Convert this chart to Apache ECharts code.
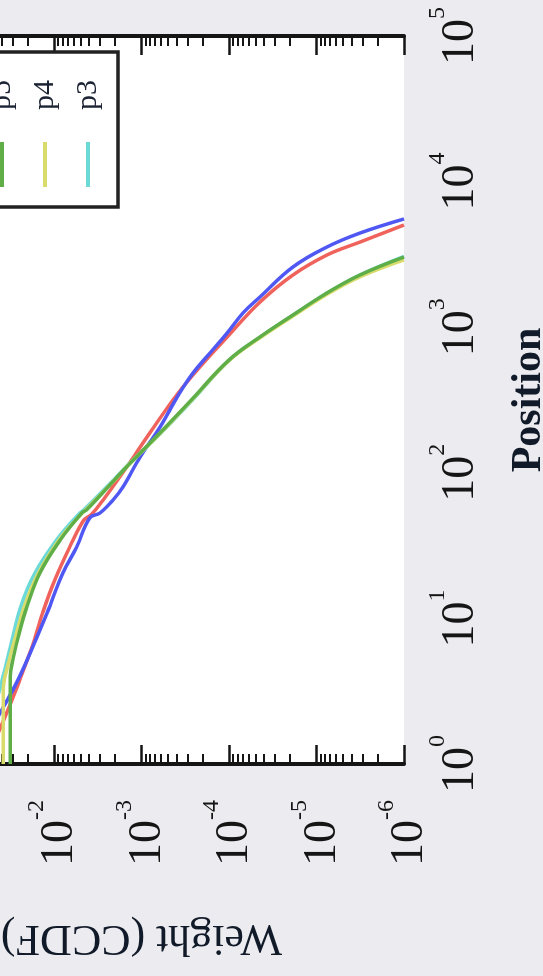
<!DOCTYPE html>
<html><head><meta charset="utf-8">
<script src="https://cdn.jsdelivr.net/npm/echarts@6/dist/echarts.min.js"></script>
<style>
html,body{margin:0;padding:0;width:543px;height:976px;overflow:hidden;background:#ebebf0;}
#chart{position:absolute;left:0;top:0;width:976px;height:843px;transform-origin:0 0;transform:translate(-200px,976px) rotate(-90deg);}
</style></head><body><div id="chart"></div>
<script>
// Tick labels
const xTicks = [1, 10, 100, 1000, 10000, 100000];
const yTicks = [1e-6, 1e-5, 1e-4, 1e-3, 1e-2, 1e-1, 1];
const minorMultipliers = [2, 3, 4, 5, 6, 7, 8, 9];

// Series (legend order, top to bottom)
const seriesNames = ['p7', 'p6', 'p5', 'p4', 'p3'];
const seriesColors = ['#f0625c', '#5058f4', '#5fae48', '#d9dc6c', '#6cd9d9'];

// [position, weight]
const p7 = [[1,0.063],[2.24,0.0347],[3.8,0.0245],[6.4,0.0178],[10.9,0.0135],[18.4,0.0098],[31,0.0066],[47,0.0046],[52,0.0037],[65,0.00275],[110,0.00147],[176,0.000865],[316,0.000437],[470,0.000258],[857,0.000105],[1489,0.0000443],[2284,0.0000186],[3133,0.00000759],[3846,0.00000318],[5035,0.000001]];
const p6 = [[1,0.089],[2.45,0.038],[3.8,0.0257],[6.4,0.0174],[10.9,0.012],[20.5,0.0079],[31,0.0055],[49,0.0039],[53,0.00298],[65,0.00212],[80,0.00163],[128,0.00104],[206,0.000615],[332,0.00039],[484,0.000258],[665,0.000165],[912,0.000105],[1253,0.0000692],[1611,0.0000443],[2590,0.0000186],[3556,0.00000759],[4436,0.00000318],[5540,0.000001]];
const p5 = [[1,0.0316],[4.0,0.0316],[5.2,0.0295],[8.3,0.0245],[12,0.0204],[20.5,0.0145],[34.5,0.0085],[53,0.0048],[56,0.0042],[93.5,0.0019],[110,0.00147],[188,0.000615],[316,0.00027],[595,0.0001],[857,0.0000443],[1213,0.0000186],[1718,0.00000759],[2284,0.00000318],[3034,0.000001]];
const p4 = [[1,0.038],[3.2,0.038],[5.0,0.033],[7.9,0.0269],[12,0.0219],[20.4,0.0151],[34.7,0.0087],[52,0.0049],[56,0.0043],[93,0.0019],[110,0.00148],[186,0.000615],[313,0.00027],[590,0.0001],[845,0.0000443],[1190,0.0000186],[1680,0.00000759],[2220,0.00000318],[2900,0.000001]];
const p3 = [[1,0.079],[2.24,0.05],[3.8,0.039],[6.3,0.0316],[12,0.024],[20.4,0.0166],[34.7,0.0093],[52,0.0052],[56,0.0045],[93,0.00195],[110,0.0015],[188,0.0006],[316,0.000262],[600,0.000098],[860,0.0000433],[1220,0.0000182],[1730,0.0000074],[2300,0.0000031],[3060,0.000001]];
const seriesData = [p7, p6, p5, p4, p3];
// drawing order: green drawn last (on top)
const drawOrder = [0, 1, 4, 3, 2];

const FONT = 'Liberation Serif';
const INK = '#151515';

function minorLogPositions(ticks) {
  const out = [];
  for (let i = 0; i < ticks.length - 1; i++) {
    const k = Math.round(Math.log10(ticks[i]));
    minorMultipliers.forEach(m => out.push(k + Math.log10(m)));
  }
  return out;
}
const xMinor = minorLogPositions(xTicks);
const yMinor = minorLogPositions(yTicks);
const xLogMin = Math.log10(xTicks[0]), xLogMax = Math.log10(xTicks[xTicks.length - 1]);
const yLogMin = Math.log10(yTicks[0]), yLogMax = Math.log10(yTicks[yTicks.length - 1]);

function expLabel(v) {
  const e = Math.round(Math.log10(v));
  return '{b|10}{e|' + e + '}';
}
const richLabel = {
  b: { fontFamily: FONT, fontSize: 46, lineHeight: 58, color: INK, verticalAlign: 'bottom' },
  e: { fontFamily: FONT, fontSize: 24, lineHeight: 24, color: INK, verticalAlign: 'top' }
};

const majorTick = { show: true, inside: true, length: 19, lineStyle: { color: INK, width: 2.5 } };
const minorTickStyle = (vals) => ({ show: true, inside: true, length: 10, customValues: vals, lineStyle: { color: INK, width: 2 } });
const frameLine = { show: true, lineStyle: { color: INK, width: 4 } };

const chart = echarts.init(document.getElementById('chart'), null, { renderer: 'canvas' });
chart.setOption({
  animation: false,
  backgroundColor: 'transparent',
  grid: { left: 212, right: 36, top: 79, bottom: 239, outerBoundsMode: 'none', containLabel: false, show: true, backgroundColor: '#ffffff', borderWidth: 0 },
  legend: {
    data: seriesNames,
    orient: 'vertical',
    align: 'left',
    right: 52,
    top: 86,
    padding: [15, 28, 15, 20],
    itemGap: 13,
    itemWidth: 45,
    itemHeight: 4,
    icon: 'rect',
    backgroundColor: '#ffffff',
    borderColor: '#222',
    borderWidth: 3.5,
    borderRadius: 0,
    textStyle: { fontFamily: FONT, fontSize: 30, lineHeight: 30, color: '#1a2233', padding: [0, 0, 0, 27] }
  },
  xAxis: [
    {
      type: 'log', logBase: 10, min: xTicks[0], max: xTicks[xTicks.length - 1], position: 'bottom',
      axisLine: frameLine, axisTick: majorTick, splitLine: { show: false },
      axisLabel: { formatter: expLabel, margin: 22, rich: richLabel, showMinLabel: true, showMaxLabel: true },
      name: 'Position', nameLocation: 'middle', nameGap: 104,
      nameTextStyle: { fontFamily: FONT, fontSize: 42, fontWeight: 'bold', color: '#111a28' }
    },
    {
      type: 'value', min: xLogMin, max: xLogMax, position: 'bottom',
      axisLine: { show: false }, axisTick: minorTickStyle(xMinor), axisLabel: { show: false }, splitLine: { show: false }
    },
    {
      type: 'log', logBase: 10, min: xTicks[0], max: xTicks[xTicks.length - 1], position: 'top',
      axisLine: frameLine, axisTick: majorTick, axisLabel: { show: false }, splitLine: { show: false }
    },
    {
      type: 'value', min: xLogMin, max: xLogMax, position: 'top',
      axisLine: { show: false }, axisTick: minorTickStyle(xMinor), axisLabel: { show: false }, splitLine: { show: false }
    }
  ],
  yAxis: [
    {
      type: 'log', logBase: 10, min: yTicks[0], max: yTicks[yTicks.length - 1], position: 'left',
      axisLine: frameLine, axisTick: majorTick, splitLine: { show: false },
      axisLabel: { formatter: expLabel, margin: 36, rich: richLabel, showMinLabel: true, showMaxLabel: true },
      name: 'Weight (CCDF)', nameLocation: 'middle', nameRotate: 90, nameGap: 152,
      nameTextStyle: { fontFamily: FONT, fontSize: 44, color: '#111a28' }
    },
    {
      type: 'value', min: yLogMin, max: yLogMax, position: 'left',
      axisLine: { show: false }, axisTick: minorTickStyle(yMinor), axisLabel: { show: false }, splitLine: { show: false }
    },
    {
      type: 'log', logBase: 10, min: yTicks[0], max: yTicks[yTicks.length - 1], position: 'right',
      axisLine: frameLine, axisTick: majorTick, axisLabel: { show: false }, splitLine: { show: false }
    },
    {
      type: 'value', min: yLogMin, max: yLogMax, position: 'right',
      axisLine: { show: false }, axisTick: minorTickStyle(yMinor), axisLabel: { show: false }, splitLine: { show: false }
    }
  ],
  series: drawOrder.map(i => ({
    name: seriesNames[i],
    type: 'line',
    xAxisIndex: 0,
    yAxisIndex: 0,
    data: seriesData[i],
    showSymbol: false,
    symbol: 'none',
    smooth: 0.4,
    lineStyle: { color: seriesColors[i], width: 3.5 },
    itemStyle: { color: seriesColors[i] },
    emphasis: { disabled: true }
  }))
});
</script></body></html>
